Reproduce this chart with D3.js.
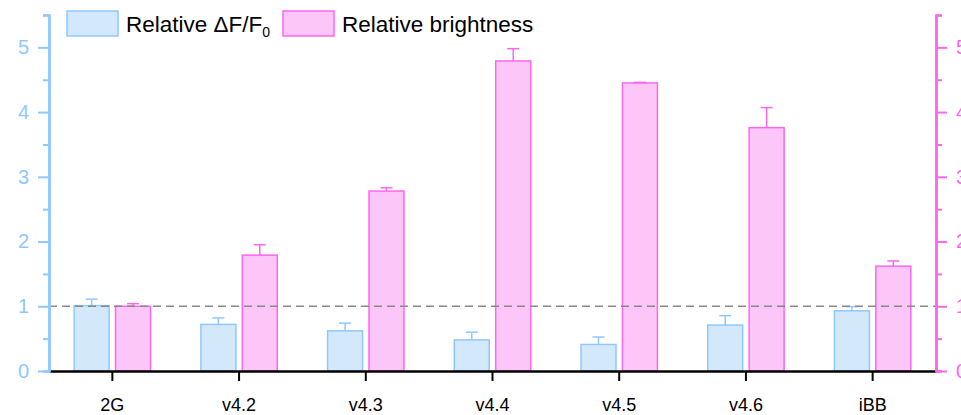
<!DOCTYPE html>
<html>
<head>
<meta charset="utf-8">
<script src="https://cdn.jsdelivr.net/npm/d3@7"></script>
<style>
  html, body { margin: 0; padding: 0; background: #fff; }
  svg { display: block; font-family: "Liberation Sans", Arial, sans-serif; }
</style>
</head>
<body>
<svg id="chart" width="961" height="415"></svg>
<script>
// Variants and their measurements, normalised to 2G
const categories = ["2G", "v4.2", "v4.3", "v4.4", "v4.5", "v4.6", "iBB"];
const dffValues = [1.01, 0.72, 0.62, 0.48, 0.41, 0.71, 0.93];
const dffErrors = [0.10, 0.10, 0.12, 0.12, 0.115, 0.145, 0.065];
const brightValues = [1.0, 1.79, 2.78, 4.79, 4.45, 3.76, 1.62];
const brightErrors = [0.04, 0.16, 0.05, 0.19, 0.01, 0.31, 0.08];
const yTicks = [0, 1, 2, 3, 4, 5];
const yMinorTicks = [0.5, 1.5, 2.5, 3.5, 4.5, 5.5];
const legendLabels = ["Relative \u0394F/F", "Relative brightness"];

const blueFill = "#d4e8fc", blueStroke = "#8fc8ff";
const pinkFill = "#fdc6f8", pinkStroke = "#ff66ee";

const svg = d3.select("#chart");
const plotLeft = 49, plotRight = 936, plotTop = 15, plotBottom = 371;

const x = d3.scaleBand().domain(categories).range([plotLeft, plotRight]).padding(0);
const yL = d3.scaleLinear().domain([0, 5.5]).range([plotBottom, plotTop]);
const yR = d3.scaleLinear().domain([0, 5.5]).range([plotBottom, plotTop]);

const barW = 35;
const offset = 20.7;

function drawSeries(values, errors, scale, dx, fill, stroke) {
  const g = svg.append("g");
  categories.forEach((c, i) => {
    const cx = x(c) + x.bandwidth() / 2 + dx;
    const yTop = scale(values[i]);
    g.append("rect")
      .attr("x", cx - barW / 2).attr("y", yTop)
      .attr("width", barW).attr("height", scale(0) - yTop)
      .attr("fill", fill).attr("stroke", stroke).attr("stroke-width", 1.5);
    const yErr = scale(values[i] + errors[i]);
    g.append("line").attr("x1", cx).attr("x2", cx).attr("y1", yTop).attr("y2", yErr)
      .attr("stroke", stroke).attr("stroke-width", 1.5);
    g.append("line").attr("x1", cx - 6).attr("x2", cx + 6).attr("y1", yErr).attr("y2", yErr)
      .attr("stroke", stroke).attr("stroke-width", 1.5);
  });
}

// Blue bars (left axis), pink bars (right axis)
drawSeries(dffValues, dffErrors, yL, -offset, blueFill, blueStroke);
drawSeries(brightValues, brightErrors, yR, offset, pinkFill, pinkStroke);

// Reference line at 1
svg.append("line")
  .attr("x1", plotLeft).attr("x2", plotRight).attr("y1", yL(1)).attr("y2", yL(1))
  .attr("stroke", "#888").attr("stroke-width", 1.5).attr("stroke-dasharray", "8,5");

// Bottom axis
const xAxis = svg.append("g").attr("transform", `translate(0,${plotBottom})`)
  .call(d3.axisBottom(x).tickSize(10).tickSizeOuter(0).tickPadding(17));
xAxis.select(".domain").attr("stroke", "#000").attr("stroke-width", 2.5);
xAxis.selectAll(".tick line").attr("stroke", "#000").attr("stroke-width", 2);
xAxis.selectAll(".tick text").attr("fill", "#000").style("font-size", "18px")
  .style("font-family", "'Liberation Sans', Arial, sans-serif");

function styleY(g, color) {
  g.select(".domain").attr("stroke", color).attr("stroke-width", 2.5);
  g.selectAll(".tick line").attr("stroke", color).attr("stroke-width", 2);
  g.selectAll(".tick text").attr("fill", color).style("font-size", "20px")
    .style("font-family", "'Liberation Sans', Arial, sans-serif");
}

// Left axis
const gL = svg.append("g").attr("transform", `translate(${plotLeft},0)`);
gL.append("g").call(d3.axisLeft(yL).tickValues(yMinorTicks).tickSize(6).tickFormat(""))
  .call(g => styleY(g, blueStroke));
gL.append("g").call(d3.axisLeft(yL).tickValues(yTicks).tickSizeInner(11).tickSizeOuter(0).tickPadding(9).tickFormat(d3.format("d")))
  .call(g => styleY(g, blueStroke));

// Right axis
const gR = svg.append("g").attr("transform", `translate(${plotRight},0)`);
gR.append("g").call(d3.axisRight(yR).tickValues(yMinorTicks).tickSize(6).tickFormat(""))
  .call(g => styleY(g, pinkStroke));
gR.append("g").call(d3.axisRight(yR).tickValues(yTicks).tickSizeInner(11).tickSizeOuter(0).tickPadding(9).tickFormat(d3.format("d")))
  .call(g => styleY(g, pinkStroke));

// Legend
const legend = svg.append("g");
legend.append("rect").attr("x", 67).attr("y", 11).attr("width", 51).attr("height", 25)
  .attr("fill", blueFill).attr("stroke", blueStroke).attr("stroke-width", 1.5);
const t1 = legend.append("text").attr("x", 126).attr("y", 32)
  .style("font-size", "22.5px").attr("fill", "#000").text(legendLabels[0]);
t1.append("tspan").attr("dy", 5).style("font-size", "14px").text("0");
legend.append("rect").attr("x", 283).attr("y", 11).attr("width", 51).attr("height", 25)
  .attr("fill", pinkFill).attr("stroke", pinkStroke).attr("stroke-width", 1.5);
legend.append("text").attr("x", 342).attr("y", 32)
  .style("font-size", "22.5px").attr("fill", "#000").text(legendLabels[1]);
</script>
</body>
</html>
